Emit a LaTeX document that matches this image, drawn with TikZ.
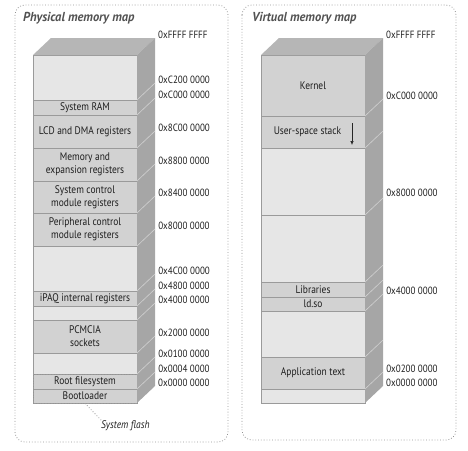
\documentclass[tikz,border=0pt]{standalone}
\usepackage{fontspec}
\setmainfont{PT Sans}[FakeStretch=0.86]
\newfontfamily\titlefont{PT Sans}[FakeStretch=0.96]
\usetikzlibrary{positioning,fit,arrows.meta}
\definecolor{freegray}{HTML}{E6E6E6}
\definecolor{usedgray}{HTML}{D2D2D2}
\definecolor{topgray}{HTML}{B6B6B6}
\definecolor{sidegray}{HTML}{A6A6A6}
\definecolor{rulegray}{HTML}{9A9A9A}
\definecolor{inkgray}{HTML}{1E1E1E}
\tikzstyle{panel} = [draw=gray!85,dotted,line width=.8pt,rounded corners=.35cm]
\tikzstyle{band} = [draw=rulegray,line width=.6pt,rectangle,inner sep=0,outer sep=0,minimum width=104pt,align=center,text=inkgray,font=\fontsize{11}{13}\selectfont]
\tikzstyle{freeband} = [band,fill=freegray]
\tikzstyle{usedband} = [band,fill=usedgray]
\tikzstyle{depth} = [-,draw=black!18,line width=.6pt]
\tikzstyle{addr} = [anchor=west,inner sep=0,xshift=3pt,yshift=3pt,text=inkgray,font=\fontsize{10.5}{12}\selectfont]
\tikzstyle{heading} = [anchor=west,inner sep=0,text=black!68,font=\titlefont\bfseries\itshape\fontsize{13}{13}\selectfont]
\tikzstyle{flashbox} = [draw=gray!85,dotted,line width=.8pt,rectangle,inner sep=0]
\def \dx {18}
\def \dy {17}

\begin{document}
\begin{tikzpicture}[x=1pt,y=-1pt]
  \useasboundingbox (0,0) rectangle (468,450);
  % panels
  \draw[panel] (15,5) rectangle (228,442);
  \draw[panel] (242,5) rectangle (456,440);
  \node[heading] (phys) at (23,18) {Physical memory map};
  \node[heading] (virt) at (252,18) {Virtual memory map};

  % physical map, top to bottom
  \node[freeband,minimum height=45pt,anchor=north] (pfree1) at (85,55) {};
  \node[usedband,minimum height=15pt,below=0pt of pfree1] (psysram) {System RAM};
  \node[usedband,minimum height=33pt,below=0pt of psysram] (plcd) {LCD and DMA registers};
  \node[usedband,minimum height=33pt,below=0pt of plcd] (pmemexp) {Memory and\\expansion registers};
  \node[usedband,minimum height=32pt,below=0pt of pmemexp] (psysctl) {System control\\module registers};
  \node[usedband,minimum height=33pt,below=0pt of psysctl] (pperiph) {Peripheral control\\module registers};
  \node[freeband,minimum height=45pt,below=0pt of pperiph] (pfree2) {};
  \node[usedband,minimum height=15pt,below=0pt of pfree2] (pipaq) {iPAQ internal registers};
  \node[freeband,minimum height=14pt,below=0pt of pipaq] (pfree3) {};
  \node[usedband,minimum height=33pt,below=0pt of pfree3] (ppcmcia) {PCMCIA\\sockets};
  \node[freeband,minimum height=21pt,below=0pt of ppcmcia] (pfree4) {};
  \node[usedband,minimum height=15pt,below=0pt of pfree4] (prootfs) {Root filesystem};
  \node[usedband,minimum height=14pt,below=0pt of prootfs] (pboot) {Bootloader};
  \node[flashbox,fit=(prootfs)(pboot)] (pflash) {};

  \fill[topgray] (pfree1.north west) -- ++(\dx,-\dy) -- ++(104,0) -- (pfree1.north east) -- cycle;
  \fill[sidegray] (pfree1.north east) -- ++(\dx,-\dy) -- ++(0,348) -- (pboot.south east) -- cycle;

  \node[addr] (ptop) at ([shift={(\dx,-\dy)}]pfree1.north east) {0xFFFF FFFF};
  \draw[depth] (psysram.north east) -- +(\dx,-\dy) node[addr]{0xC200 0000};
  \draw[depth] (plcd.north east) -- +(\dx,-\dy) node[addr]{0xC000 0000};
  \draw[depth] (pmemexp.north east) -- +(\dx,-\dy) node[addr]{0x8C00 0000};
  \draw[depth] (psysctl.north east) -- +(\dx,-\dy) node[addr]{0x8800 0000};
  \draw[depth] (pperiph.north east) -- +(\dx,-\dy) node[addr]{0x8400 0000};
  \draw[depth] (pfree2.north east) -- +(\dx,-\dy) node[addr]{0x8000 0000};
  \draw[depth] (pipaq.north east) -- +(\dx,-\dy) node[addr]{0x4C00 0000};
  \draw[depth] (pfree3.north east) -- +(\dx,-\dy) node[addr]{0x4800 0000};
  \draw[depth] (ppcmcia.north east) -- +(\dx,-\dy) node[addr]{0x4000 0000};
  \draw[depth] (pfree4.north east) -- +(\dx,-\dy) node[addr]{0x2000 0000};
  \draw[depth] (prootfs.north east) -- +(\dx,-\dy) node[addr]{0x0100 0000};
  \draw[depth] (pboot.north east) -- +(\dx,-\dy) node[addr]{0x0004 0000};
  \node[addr] (pbottom) at ([shift={(\dx,-\dy)}]pboot.south east) {0x0000 0000};

  \node[anchor=north west,inner sep=0,text=inkgray,font=\itshape\fontsize{11}{12}\selectfont] (pflashlabel) at (101,420) {System flash};
  \draw[gray!80,dotted,line width=.8pt] (pflash.south) -- (pflashlabel.north west);

  % virtual map, top to bottom
  \node[usedband,minimum height=61pt,anchor=north] (vkernel) at (313,55) {Kernel};
  \node[usedband,minimum height=32pt,below=0pt of vkernel] (vstack) {User-space stack\hspace*{11pt}};
  \node[freeband,minimum height=67pt,below=0pt of vstack] (vfree1) {};
  \node[freeband,minimum height=67pt,below=0pt of vfree1] (vfree2) {};
  \node[usedband,minimum height=15pt,below=0pt of vfree2] (vlibs) {Libraries};
  \node[usedband,minimum height=14pt,below=0pt of vlibs] (vldso) {ld.so};
  \node[freeband,minimum height=46pt,below=0pt of vldso] (vfree3) {};
  \node[usedband,minimum height=32pt,below=0pt of vfree3] (vapp) {Application text};
  \node[freeband,minimum height=14pt,below=0pt of vapp] (vfree4) {};

  \fill[topgray] (vkernel.north west) -- ++(\dx,-\dy) -- ++(104,0) -- (vkernel.north east) -- cycle;
  \fill[sidegray] (vkernel.north east) -- ++(\dx,-\dy) -- ++(0,348) -- (vfree4.south east) -- cycle;

  \draw[-{Latex[length=4pt,width=3.5pt]},black!85,line width=.6pt] ([shift={(-13,-9)}]vstack.east) -- ++(0,22);

  \node[addr] (vtop) at ([shift={(\dx,-\dy)}]vkernel.north east) {0xFFFF FFFF};
  \draw[depth] (vstack.north east) -- +(\dx,-\dy) node[addr]{0xC000 0000};
  \draw[depth] (vfree1.north east) -- +(\dx,-\dy);
  \draw[depth] (vfree2.north east) -- +(\dx,-\dy) node[addr,yshift=2pt]{0x8000 0000};
  \draw[depth] (vlibs.north east) -- +(\dx,-\dy);
  \draw[depth] (vldso.north east) -- +(\dx,-\dy);
  \draw[depth] (vfree3.north east) -- +(\dx,-\dy) node[addr]{0x4000 0000};
  \draw[depth] (vapp.north east) -- +(\dx,-\dy);
  \draw[depth] (vfree4.north east) -- +(\dx,-\dy) node[addr]{0x0200 0000};
  \node[addr] (vbottom) at ([shift={(\dx,-\dy)}]vfree4.south east) {0x0000 0000};
\end{tikzpicture}
\end{document}
